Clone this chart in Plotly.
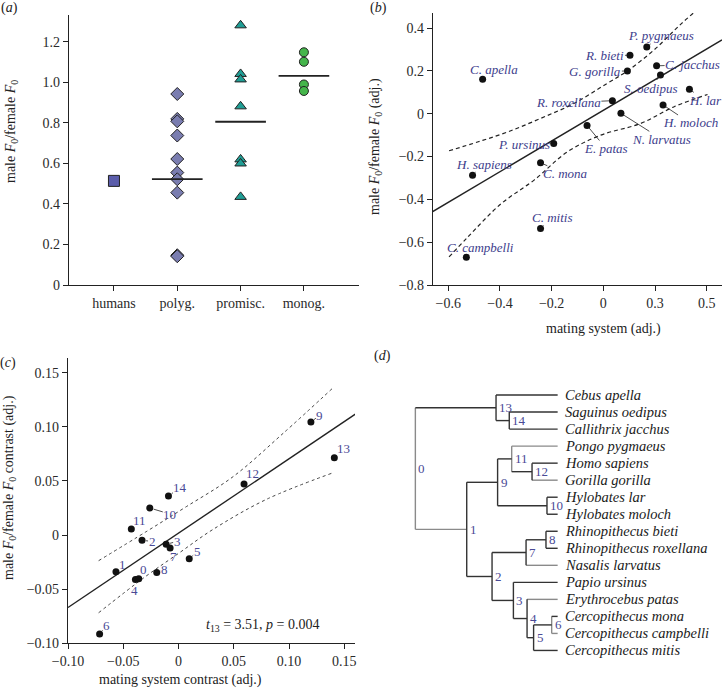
import plotly.graph_objects as go

W, H = 722, 692
SERIF = "Liberation Serif, Times New Roman, serif"
INK = "#222222"
BLUE_TXT = "#3d3d8c"

# ---------------- (a) data ----------------
cat_labels = ["humans", "polyg.", "promisc.", "monog."]
humans_vals = [0.514]
polyg_vals = [0.943, 0.820, 0.808, 0.738, 0.622, 0.555, 0.522, 0.456, 0.147, 0.142]
promisc_vals = [1.282, 1.042, 1.015, 0.882, 0.620, 0.600, 0.435]
monog_vals = [1.149, 1.102, 0.990, 0.958]
group_line_vals = [None, 0.523, 0.806, 1.032]

# ---------------- (b) data ----------------
species_b = ["C. apella", "H. sapiens", "C. campbelli", "C. mitis", "C. mona",
             "P. ursinus", "E. patas", "N. larvatus", "R. roxellana", "G. gorilla",
             "R. bieti", "P. pygmaeus", "C. jacchus", "S. oedipus", "H. lar", "H. moloch"]
mating_b = [-0.467, -0.506, -0.530, -0.243, -0.243, -0.192, -0.063, 0.068, 0.035, 0.093,
            0.103, 0.168, 0.206, 0.221, 0.333, 0.231]
f0_b = [0.161, -0.287, -0.670, -0.536, -0.229, -0.139, -0.055, 0.002, 0.061, 0.200,
        0.273, 0.312, 0.224, 0.181, 0.114, 0.041]
label_dx_b = [11, 11, 14, 11, 25, -30, 19, 41, -44, -32, -25, 14, 36, -10, 16, 27]
label_dy_b = [-10, -11, -10, -11, 11, 1, 23, 26, 2, 1, 0, -11, -1, 13, 11, 18]
fit_b_x = [-0.66, 0.459]
fit_b_y = [-0.457, 0.345]
upper_b_x = [-0.597, -0.484, -0.368, -0.243, -0.114, 0.015, 0.093, 0.196, 0.303, 0.400]
upper_b_y = [-0.173, -0.131, -0.084, -0.022, 0.048, 0.142, 0.200, 0.298, 0.422, 0.524]
lower_b_x = [-0.597, -0.526, -0.397, -0.268, -0.139, -0.010, 0.145, 0.274, 0.403]
lower_b_y = [-0.669, -0.578, -0.422, -0.310, -0.178, -0.100, -0.045, 0.033, 0.090]
xt_b_vals = [-0.6, -0.4, -0.2, 0, 0.2, 0.4]
xt_b_text = ["\u22120.6", "\u22120.4", "\u22120.2", "0", "0.3", "0.5"]
yt_b_vals = [-0.8, -0.6, -0.4, -0.2, 0, 0.2, 0.4]
yt_b_text = ["\u22120.8", "\u22120.6", "\u22120.4", "\u22120.2", "0", "0.2", "0.4"]

# ---------------- (c) data ----------------
contrast_ids = ["6", "1", "4", "0", "8", "2", "11", "10", "14", "3", "7", "5", "12", "9", "13"]
mating_c = [-0.0714, -0.0566, -0.0390, -0.0360, -0.0197, -0.0330, -0.0427, -0.0260, -0.0091,
            -0.0112, -0.0076, 0.0097, 0.0593, 0.1198, 0.1410]
f0_c = [-0.0915, -0.0339, -0.0410, -0.0404, -0.0345, -0.0049, 0.0055, 0.0250, 0.0360,
        -0.0086, -0.0120, -0.0219, 0.0471, 0.1044, 0.0715]
label_dx_c = [7, 7, -1, 5, 8, 10, 8, 20, 12, 11, 3, 8, 8, 9, 9]
label_dy_c = [-9, -7, 11, -9, -3, 1, -9, 6, -9, -3, 8, -7, -11, -7, -9]
fit_c_x = [-0.10, 0.16]
fit_c_y = [-0.0669, 0.1117]
upper_c_x = [-0.0723, -0.0293, 0.0070, 0.0493, 0.0947, 0.1400]
upper_c_y = [-0.0237, 0.0031, 0.0262, 0.0539, 0.0940, 0.1362]
lower_c_x = [-0.0723, -0.0309, 0.0009, 0.0312, 0.0796, 0.1400]
lower_c_y = [-0.0718, -0.0391, -0.0163, 0.0052, 0.0330, 0.0576]
xt_c_vals = [-0.10, -0.05, 0, 0.05, 0.10, 0.15]
xt_c_text = ["\u22120.10", "\u22120.05", "0", "0.05", "0.10", "0.15"]
yt_c_vals = [-0.10, -0.05, 0, 0.05, 0.10, 0.15]
yt_c_text = ["\u22120.10", "\u22120.05", "0", "0.05", "0.10", "0.15"]

# ---------------- (d) data ----------------
tips = ["Cebus apella", "Saguinus oedipus", "Callithrix jacchus", "Pongo pygmaeus",
        "Homo sapiens", "Gorilla gorilla", "Hylobates lar", "Hylobates moloch",
        "Rhinopithecus bieti", "Rhinopithecus roxellana", "Nasalis larvatus",
        "Papio ursinus", "Erythrocebus patas", "Cercopithecus mona",
        "Cercopithecus campbelli", "Cercopithecus mitis"]
node_depth = {0: 0.0, 13: 0.567, 14: 0.660, 1: 0.361, 9: 0.578, 11: 0.677, 12: 0.820,
              10: 0.925, 2: 0.539, 7: 0.778, 8: 0.918, 3: 0.689, 4: 0.785, 5: 0.831, 6: 0.958}
node_children = {0: [13, 1], 13: ["t0", 14], 14: ["t1", "t2"], 1: [9, 2], 9: [11, 10],
                 11: ["t3", 12], 12: ["t4", "t5"], 10: ["t6", "t7"], 2: [7, 3],
                 7: [8, "t10"], 8: ["t8", "t9"], 3: ["t11", 4], 4: ["t12", 5],
                 5: [6, "t15"], 6: ["t13", "t14"]}
gray_edges = {"t3", "t5", "t10", "t12", "t14", 1}
gray_vert = {11, 0, 6}
TIP_DEPTH = 1.0

fig = go.Figure()

# ---------- (a) ----------
mk_line = dict(color=INK, width=1)
fig.add_trace(go.Scatter(x=[cat_labels.index("humans")] * len(humans_vals), y=humans_vals,
                         mode="markers", xaxis="x", yaxis="y",
                         marker=dict(symbol="square", size=11, color="#5b5dab", line=mk_line)))
fig.add_trace(go.Scatter(x=[cat_labels.index("polyg.")] * len(polyg_vals), y=polyg_vals,
                         mode="markers", xaxis="x", yaxis="y",
                         marker=dict(symbol="diamond", size=10, color="#7a7db0", line=mk_line)))
fig.add_trace(go.Scatter(x=[cat_labels.index("promisc.")] * len(promisc_vals), y=promisc_vals,
                         mode="markers", xaxis="x", yaxis="y",
                         marker=dict(symbol="triangle-up", size=10, color="#1f9e95", line=mk_line)))
fig.add_trace(go.Scatter(x=[cat_labels.index("monog.")] * len(monog_vals), y=monog_vals,
                         mode="markers", xaxis="x", yaxis="y",
                         marker=dict(symbol="circle", size=9, color="#45b54b", line=mk_line)))
shapes = []
for i, v in enumerate(group_line_vals):
    if v is None:
        continue
    shapes.append(dict(type="line", xref="x", yref="y", x0=i - 0.4, x1=i + 0.4, y0=v, y1=v,
                       line=dict(color=INK, width=1.8)))

# ---------- (b) ----------
fig.add_trace(go.Scatter(x=upper_b_x, y=upper_b_y, mode="lines", xaxis="x2", yaxis="y2",
                         line=dict(color=INK, width=1.2, dash="4px,3px", shape="spline")))
fig.add_trace(go.Scatter(x=lower_b_x, y=lower_b_y, mode="lines", xaxis="x2", yaxis="y2",
                         line=dict(color=INK, width=1.2, dash="4px,3px", shape="spline")))
fig.add_trace(go.Scatter(x=fit_b_x, y=fit_b_y, mode="lines", xaxis="x2", yaxis="y2",
                         line=dict(color=INK, width=1.4)))
fig.add_trace(go.Scatter(x=mating_b, y=f0_b, mode="markers", xaxis="x2", yaxis="y2",
                         marker=dict(size=7, color="#111111")))

# ---------- (c) ----------
fig.add_trace(go.Scatter(x=upper_c_x, y=upper_c_y, mode="lines", xaxis="x3", yaxis="y3",
                         line=dict(color="#444444", width=1, dash="3px,3px", shape="spline")))
fig.add_trace(go.Scatter(x=lower_c_x, y=lower_c_y, mode="lines", xaxis="x3", yaxis="y3",
                         line=dict(color="#444444", width=1, dash="3px,3px", shape="spline")))
fig.add_trace(go.Scatter(x=fit_c_x, y=fit_c_y, mode="lines", xaxis="x3", yaxis="y3",
                         line=dict(color=INK, width=1.4)))
fig.add_trace(go.Scatter(x=mating_c, y=f0_c, mode="markers", xaxis="x3", yaxis="y3",
                         marker=dict(size=7, color="#111111")))

# ---------- (d) tree ----------
ypos = {}
def node_y(n):
    if isinstance(n, str):
        return float(int(n[1:]))
    if n in ypos:
        return ypos[n]
    ys = [node_y(c) for c in node_children[n]]
    ypos[n] = sum(ys) / len(ys)
    return ypos[n]

def depth(n):
    return TIP_DEPTH if isinstance(n, str) else node_depth[n]

seg = {"dark": ([], []), "gray": ([], [])}
for n, ch in node_children.items():
    x0 = node_depth[n]
    ys = [node_y(c) for c in ch]
    key = "gray" if n in gray_vert else "dark"
    seg[key][0].extend([x0, x0, None])
    seg[key][1].extend([min(ys), max(ys), None])
    for c in ch:
        key = "gray" if c in gray_edges else "dark"
        seg[key][0].extend([x0, depth(c), None])
        seg[key][1].extend([node_y(c), node_y(c), None])
for key, col in (("gray", "#8a8a8a"), ("dark", "#333333")):
    fig.add_trace(go.Scatter(x=seg[key][0], y=seg[key][1], mode="lines", xaxis="x4", yaxis="y4",
                             line=dict(color=col, width=1.4)))

annotations = []
for i, name in enumerate(tips):
    annotations.append(dict(x=TIP_DEPTH + 0.04, y=i, xref="x4", yref="y4", text=f"<i>{name}</i>",
                            showarrow=False, xanchor="left", yanchor="middle",
                            font=dict(family=SERIF, size=14.5, color="#1a1a1a")))
for n in node_children:
    annotations.append(dict(x=node_depth[n], y=node_y(n), xref="x4", yref="y4", text=str(n),
                            showarrow=False, xanchor="left", yanchor="middle", xshift=1,
                            font=dict(family=SERIF, size=13, color="#4a4a96")))

# species labels (b)
for name, x, y, ax, ay in zip(species_b, mating_b, f0_b, label_dx_b, label_dy_b):
    annotations.append(dict(x=x, y=y, xref="x2", yref="y2", text=f"<i>{name}</i>",
                            showarrow=True, arrowhead=0, arrowwidth=0.8, arrowcolor=INK,
                            ax=ax * 1.0, ay=ay * 1.0, standoff=3, borderpad=0,
                            font=dict(family=SERIF, size=13, color=BLUE_TXT)))
# contrast labels (c)
for name, x, y, ax, ay in zip(contrast_ids, mating_c, f0_c, label_dx_c, label_dy_c):
    annotations.append(dict(x=x, y=y, xref="x3", yref="y3", text=name,
                            showarrow=True, arrowhead=0, arrowwidth=0.8, arrowcolor=INK,
                            ax=ax, ay=ay, standoff=4, borderpad=0,
                            font=dict(family=SERIF, size=13, color="#4a4a96")))

def ann_px(text, px, py, size=14, angle=0, color="#222222", anchor="center"):
    annotations.append(dict(x=px / W, y=1 - py / H, xref="paper", yref="paper", text=text,
                            showarrow=False, textangle=angle, xanchor=anchor, yanchor="middle",
                            font=dict(family=SERIF, size=size, color=color)))

ann_px("(<i>a</i>)", 9, 8)
ann_px("(<i>b</i>)", 378, 8)
ann_px("(<i>c</i>)", 8, 363)
ann_px("(<i>d</i>)", 382, 356)
ann_px("male <i>F</i><sub>0</sub>/female <i>F</i><sub>0</sub>", 12, 132, angle=-90)
ann_px("male <i>F</i><sub>0</sub>/female <i>F</i><sub>0</sub> (adj.)", 375, 147, angle=-90)
ann_px("mating system (adj.)", 603, 329)
ann_px("male <i>F</i><sub>0</sub>/female <i>F</i><sub>0</sub> contrast (adj.)", 9, 488, angle=-90)
ann_px("mating system contrast (adj.)", 180, 680)
ann_px("<i>t</i><sub>13</sub> = 3.51, <i>p</i> = 0.004", 263, 625)

def dx(px):
    return px / W

def dy(py):
    return 1 - py / H

axis_common = dict(showline=True, linecolor=INK, linewidth=1.3, ticks="outside", ticklen=5,
                   tickwidth=1.1, tickcolor=INK, showgrid=False, zeroline=False,
                   automargin=False,
                   tickfont=dict(family=SERIF, size=14, color="#2a2a2a"))

fig.update_layout(
    width=W, height=H, margin=dict(l=0, r=0, t=0, b=0, pad=0), autosize=False,
    paper_bgcolor="white", plot_bgcolor="white", showlegend=False,
    shapes=shapes, annotations=annotations,
    xaxis=dict(domain=[dx(69), dx(359)], range=[-0.71, 3.87], tickvals=[0, 1, 2, 3],
               ticktext=cat_labels, anchor="y", **axis_common),
    yaxis=dict(domain=[dy(285), dy(15)], range=[0, 1.333],
               tickvals=[0, 0.2, 0.4, 0.6, 0.8, 1.0, 1.2],
               ticktext=["0", "0.2", "0.4", "0.6", "0.8", "1.0", "1.2"], anchor="x", **axis_common),
    xaxis2=dict(domain=[dx(433), 1.0], range=[-0.659, 0.459], tickvals=xt_b_vals,
                ticktext=xt_b_text, anchor="y2", **axis_common),
    yaxis2=dict(domain=[dy(285), dy(13)], range=[-0.8, 0.4706], tickvals=yt_b_vals,
                ticktext=yt_b_text, anchor="x2", **axis_common),
    xaxis3=dict(domain=[dx(68), dx(355)], range=[-0.10, 0.1597], tickvals=xt_c_vals,
                ticktext=xt_c_text, anchor="y3", **axis_common),
    yaxis3=dict(domain=[dy(643.3), dy(358.3)], range=[-0.10, 0.1633], tickvals=yt_c_vals,
                ticktext=yt_c_text, anchor="x3", **axis_common),
    xaxis4=dict(domain=[dx(361), 1.0], range=[-0.382, 2.155], visible=False, anchor="y4",
                automargin=False),
    yaxis4=dict(domain=[0, dy(330)], range=[17.44, -3.82], visible=False, anchor="x4",
                automargin=False),
)

fig.write_html("out.html", config={"displayModeBar": False},
               post_script="document.body.style.margin='0';document.body.style.overflow='hidden';")
